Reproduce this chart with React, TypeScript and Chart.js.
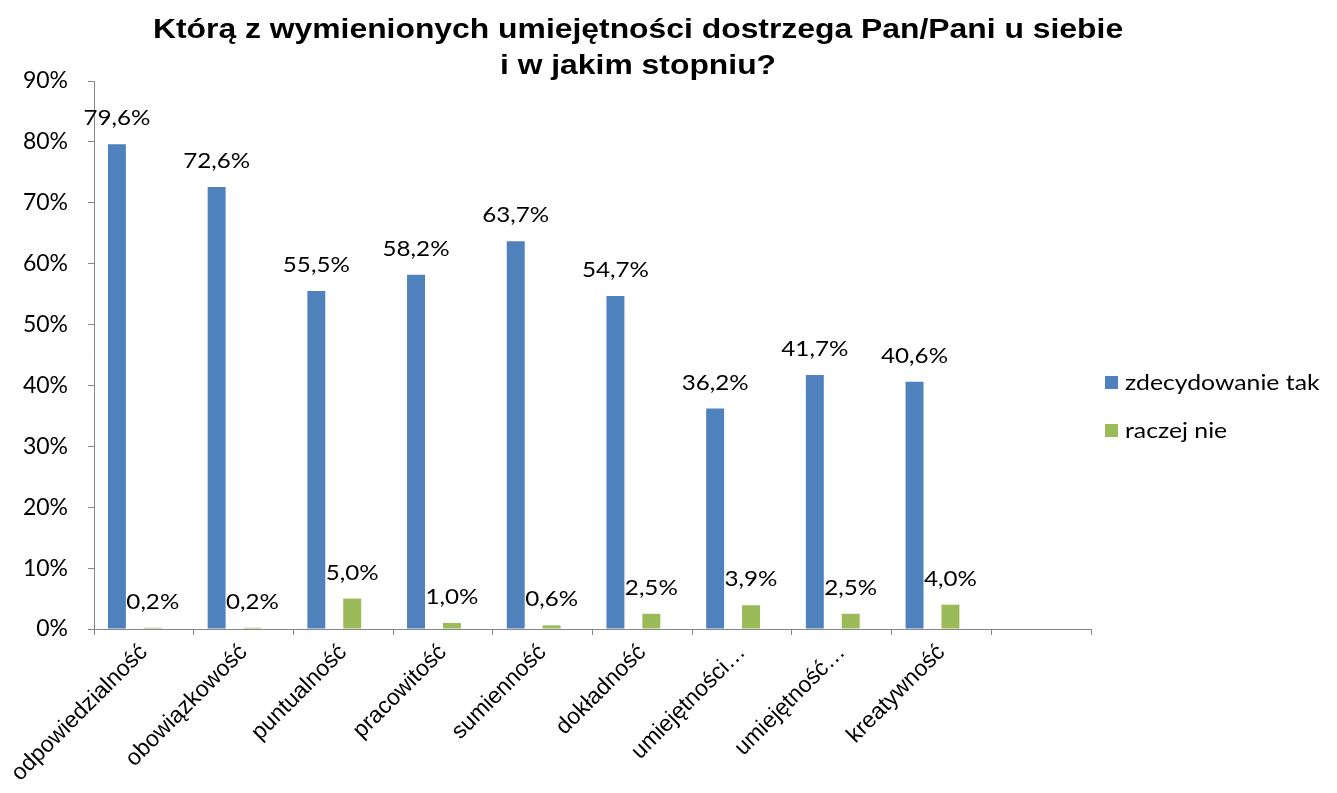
import React, { useEffect, useRef } from "react";
import { Chart, registerables } from "chart.js";

Chart.register(...registerables);

const titleLines = [
  "Którą z wymienionych umiejętności dostrzega Pan/Pani u siebie",
  "i w jakim stopniu?",
];

const categories = [
  "odpowiedzialność",
  "obowiązkowość",
  "puntualność",
  "pracowitość",
  "sumienność",
  "dokładność",
  "umiejętności…",
  "umiejętność…",
  "kreatywność",
  "",
];

const seriesNames = ["zdecydowanie tak", "raczej nie"];
const zdecydowanieTak = [79.6, 72.6, 55.5, 58.2, 63.7, 54.7, 36.2, 41.7, 40.6, null];
const raczejNie = [0.2, 0.2, 5.0, 1.0, 0.6, 2.5, 3.9, 2.5, 4.0, null];
const emptySeries = [null, null, null, null, null, null, null, null, null, null];

const seriesColors = ["#4F81BD", "#9BBB59"];
const yTicks = [0, 10, 20, 30, 40, 50, 60, 70, 80, 90];

const W = 1337;
const H = 793;
const AXIS_COLOR = "#868686";
const CAL = "Lato, 'Open Sans', sans-serif";
const ARIAL = "'Liberation Sans', Arial, sans-serif";

const fmt = (v: number) => v.toFixed(1).replace(".", ",") + "%";

function stretchedText(ctx: any, text: string, x: number, y: number, sx: number) {
  ctx.save();
  ctx.translate(x, y);
  ctx.scale(sx, 1);
  ctx.fillText(text, 0, 0);
  ctx.restore();
}

const overlayPlugin = {
  id: "overlay",
  afterDatasetsDraw(chart: any) {
    const ctx = chart.ctx;
    ctx.save();
    ctx.fillStyle = "#000";
    ctx.font = `22px ${CAL}`;
    ctx.textAlign = "center";
    ctx.textBaseline = "bottom";
    chart.data.datasets.forEach((ds: any, i: number) => {
      if (!ds.label) return;
      const meta = chart.getDatasetMeta(i);
      meta.data.forEach((el: any, j: number) => {
        const v = ds.data[j];
        if (v === null || v === undefined) return;
        stretchedText(ctx, fmt(v), el.x, el.y - 15, 1.1);
      });
    });
    ctx.restore();
  },
  afterDraw(chart: any) {
    const ctx = chart.ctx;
    ctx.save();
    // title
    ctx.fillStyle = "#000";
    ctx.font = `bold 27px ${ARIAL}`;
    ctx.textAlign = "center";
    ctx.textBaseline = "middle";
    stretchedText(ctx, titleLines[0], 638, 31, 1.18);
    stretchedText(ctx, titleLines[1], 638, 67, 1.18);
    // legend
    ctx.font = `21px ${CAL}`;
    ctx.textAlign = "left";
    seriesNames.forEach((name, i) => {
      const y = 382 + i * 48;
      ctx.fillStyle = seriesColors[i];
      ctx.fillRect(1105, y - 6, 13, 13);
      ctx.fillStyle = "#000";
      stretchedText(ctx, name, 1125, y + 1, 1.18);
    });
    ctx.restore();
  },
};

export default function App() {
  const ref = useRef<HTMLCanvasElement | null>(null);

  useEffect(() => {
    document.body.style.margin = "0";
    if (!ref.current) return;
    const chart = new Chart(ref.current, {
      type: "bar",
      data: {
        labels: categories,
        datasets: [
          { label: seriesNames[0], data: zdecydowanieTak, backgroundColor: seriesColors[0] },
          { label: "", data: emptySeries, backgroundColor: "transparent" },
          { label: seriesNames[1], data: raczejNie, backgroundColor: seriesColors[1] },
          { label: "", data: emptySeries, backgroundColor: "transparent" },
        ],
      },
      options: {
        responsive: false,
        animation: false,
        devicePixelRatio: 1,
        layout: { padding: { top: 81, right: 246, left: 0, bottom: 0 } },
        datasets: {
          bar: { categoryPercentage: 0.72, barPercentage: 1.0 },
        },
        plugins: {
          legend: { display: false },
          title: { display: false },
          tooltip: { enabled: false },
        },
        scales: {
          x: {
            offset: true,
            grid: {
              offset: true,
              drawOnChartArea: false,
              drawTicks: true,
              tickLength: 6,
              color: AXIS_COLOR,
            },
            border: { color: AXIS_COLOR, width: 1 },
            ticks: {
              minRotation: 45,
              maxRotation: 45,
              autoSkip: false,
              padding: 4,
              color: "#000",
              font: { family: ARIAL, size: 23 },
            },
            afterFit(scale: any) {
              scale.height = H - 629;
            },
          },
          y: {
            min: 0,
            max: 90,
            afterBuildTicks(scale: any) {
              scale.ticks = yTicks.map((v) => ({ value: v }));
            },
            grid: {
              drawOnChartArea: false,
              drawTicks: true,
              tickLength: 6,
              color: AXIS_COLOR,
            },
            border: { color: AXIS_COLOR, width: 1 },
            ticks: {
              padding: 20,
              color: "#000",
              font: { family: CAL, size: 23 },
              callback: (v: any) => `${v}%`,
            },
            afterFit(scale: any) {
              scale.width = 94;
            },
          },
        },
      },
      plugins: [overlayPlugin],
    });
    return () => chart.destroy();
  }, []);

  return (
    <div style={{ width: W, height: H, background: "#fff" }}>
      <canvas ref={ref} width={W} height={H} style={{ display: "block" }} />
    </div>
  );
}
